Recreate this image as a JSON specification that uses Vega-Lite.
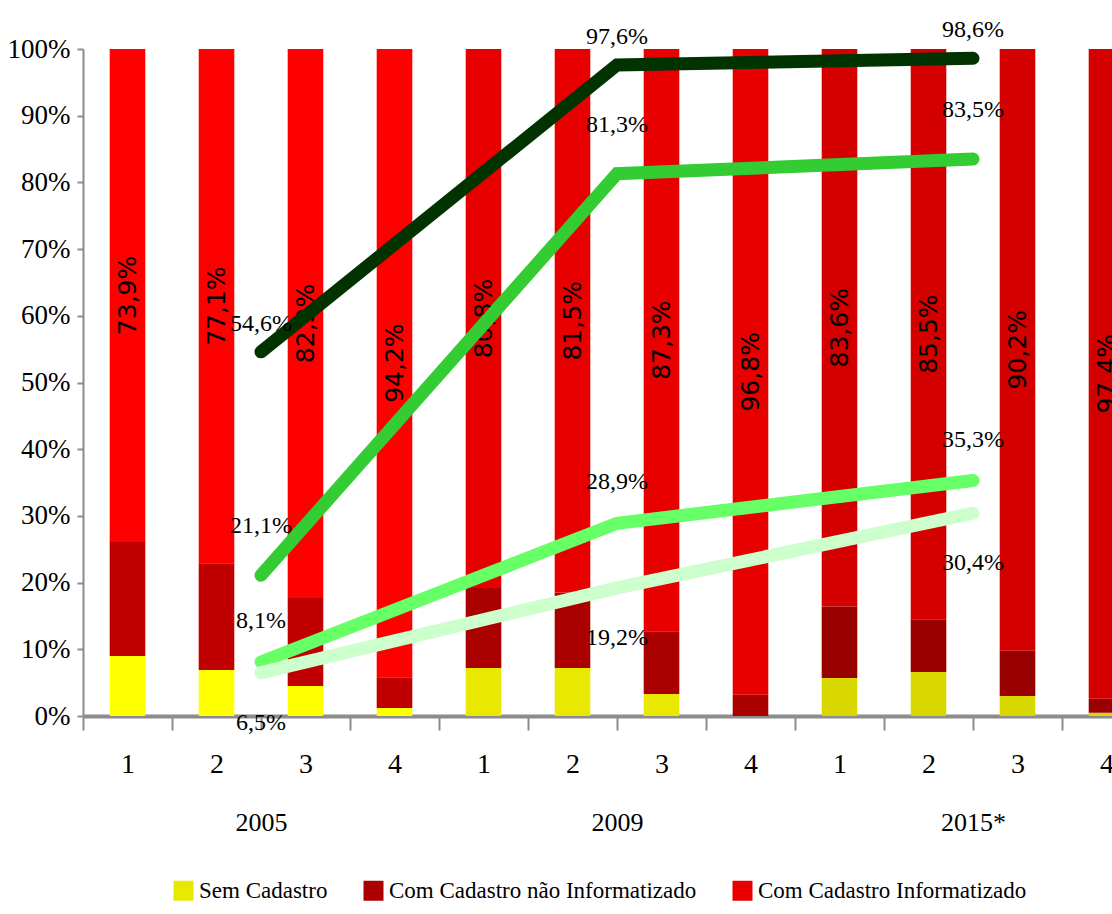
{
  "$schema": "https://vega.github.io/schema/vega-lite/v6.json",
  "width": 1029,
  "height": 667,
  "autosize": {"type": "none"},
  "padding": {"left": 83, "top": 49, "right": 0, "bottom": 198},
  "config": {
    "view": {"stroke": null},
    "font": "Liberation Serif",
    "axis": {"labelFont": "Liberation Serif", "titleFont": "Liberation Serif"},
    "legend": {"labelFont": "Liberation Serif", "titleFont": "Liberation Serif"},
    "text": {"font": "Liberation Serif"},
    "locale": {"number": {"decimal": ",", "thousands": ".", "grouping": [3], "currency": ["R$", ""]}}
  },
  "datasets": {
    "barras": [
      {"ano": "2005", "periodo": "2005-1", "categoria": "Sem Cadastro", "valor": 0.090},
      {"ano": "2005", "periodo": "2005-1", "categoria": "Com Cadastro não Informatizado", "valor": 0.171},
      {"ano": "2005", "periodo": "2005-1", "categoria": "Com Cadastro Informatizado", "valor": 0.739},
      {"ano": "2005", "periodo": "2005-2", "categoria": "Sem Cadastro", "valor": 0.069},
      {"ano": "2005", "periodo": "2005-2", "categoria": "Com Cadastro não Informatizado", "valor": 0.160},
      {"ano": "2005", "periodo": "2005-2", "categoria": "Com Cadastro Informatizado", "valor": 0.771},
      {"ano": "2005", "periodo": "2005-3", "categoria": "Sem Cadastro", "valor": 0.045},
      {"ano": "2005", "periodo": "2005-3", "categoria": "Com Cadastro não Informatizado", "valor": 0.132},
      {"ano": "2005", "periodo": "2005-3", "categoria": "Com Cadastro Informatizado", "valor": 0.823},
      {"ano": "2005", "periodo": "2005-4", "categoria": "Sem Cadastro", "valor": 0.012},
      {"ano": "2005", "periodo": "2005-4", "categoria": "Com Cadastro não Informatizado", "valor": 0.046},
      {"ano": "2005", "periodo": "2005-4", "categoria": "Com Cadastro Informatizado", "valor": 0.942},
      {"ano": "2009", "periodo": "2009-1", "categoria": "Sem Cadastro", "valor": 0.072},
      {"ano": "2009", "periodo": "2009-1", "categoria": "Com Cadastro não Informatizado", "valor": 0.120},
      {"ano": "2009", "periodo": "2009-1", "categoria": "Com Cadastro Informatizado", "valor": 0.808},
      {"ano": "2009", "periodo": "2009-2", "categoria": "Sem Cadastro", "valor": 0.072},
      {"ano": "2009", "periodo": "2009-2", "categoria": "Com Cadastro não Informatizado", "valor": 0.113},
      {"ano": "2009", "periodo": "2009-2", "categoria": "Com Cadastro Informatizado", "valor": 0.815},
      {"ano": "2009", "periodo": "2009-3", "categoria": "Sem Cadastro", "valor": 0.033},
      {"ano": "2009", "periodo": "2009-3", "categoria": "Com Cadastro não Informatizado", "valor": 0.094},
      {"ano": "2009", "periodo": "2009-3", "categoria": "Com Cadastro Informatizado", "valor": 0.873},
      {"ano": "2009", "periodo": "2009-4", "categoria": "Sem Cadastro", "valor": 0.000},
      {"ano": "2009", "periodo": "2009-4", "categoria": "Com Cadastro não Informatizado", "valor": 0.032},
      {"ano": "2009", "periodo": "2009-4", "categoria": "Com Cadastro Informatizado", "valor": 0.968},
      {"ano": "2015*", "periodo": "2015*-1", "categoria": "Sem Cadastro", "valor": 0.057},
      {"ano": "2015*", "periodo": "2015*-1", "categoria": "Com Cadastro não Informatizado", "valor": 0.107},
      {"ano": "2015*", "periodo": "2015*-1", "categoria": "Com Cadastro Informatizado", "valor": 0.836},
      {"ano": "2015*", "periodo": "2015*-2", "categoria": "Sem Cadastro", "valor": 0.066},
      {"ano": "2015*", "periodo": "2015*-2", "categoria": "Com Cadastro não Informatizado", "valor": 0.079},
      {"ano": "2015*", "periodo": "2015*-2", "categoria": "Com Cadastro Informatizado", "valor": 0.855},
      {"ano": "2015*", "periodo": "2015*-3", "categoria": "Sem Cadastro", "valor": 0.030},
      {"ano": "2015*", "periodo": "2015*-3", "categoria": "Com Cadastro não Informatizado", "valor": 0.068},
      {"ano": "2015*", "periodo": "2015*-3", "categoria": "Com Cadastro Informatizado", "valor": 0.902},
      {"ano": "2015*", "periodo": "2015*-4", "categoria": "Sem Cadastro", "valor": 0.005},
      {"ano": "2015*", "periodo": "2015*-4", "categoria": "Com Cadastro não Informatizado", "valor": 0.021},
      {"ano": "2015*", "periodo": "2015*-4", "categoria": "Com Cadastro Informatizado", "valor": 0.974}
    ],
    "linhas": [
      {"ano": "2005", "serie": "Série 1", "valor": 0.546},
      {"ano": "2009", "serie": "Série 1", "valor": 0.976},
      {"ano": "2015*", "serie": "Série 1", "valor": 0.986},
      {"ano": "2005", "serie": "Série 2", "valor": 0.211},
      {"ano": "2009", "serie": "Série 2", "valor": 0.813},
      {"ano": "2015*", "serie": "Série 2", "valor": 0.835},
      {"ano": "2005", "serie": "Série 3", "valor": 0.081},
      {"ano": "2009", "serie": "Série 3", "valor": 0.289},
      {"ano": "2015*", "serie": "Série 3", "valor": 0.353},
      {"ano": "2005", "serie": "Série 4", "valor": 0.065},
      {"ano": "2009", "serie": "Série 4", "valor": 0.192},
      {"ano": "2015*", "serie": "Série 4", "valor": 0.304}
    ]
  },
  "layer": [
    {
      "data": {"name": "barras"},
      "transform": [{"calculate": "datum.categoria + ' | ' + datum.ano", "as": "tom"}],
      "mark": {"type": "bar", "width": {"band": 0.4}},
      "encoding": {
        "x": {
          "field": "periodo", "type": "nominal", "sort": null,
          "scale": {"range": [0, 1068], "paddingInner": 0, "paddingOuter": 0},
          "axis": {
            "orient": "bottom", "title": null, "labelAngle": 0,
            "labelExpr": "split(datum.value, '-')[1]",
            "labelFont": "Liberation Serif",
            "labelFontSize": 28, "labelColor": "#000000", "labelPadding": 20,
            "tickBand": "extent", "tickSize": 14, "tickWidth": 2, "tickColor": "#8c8c8c",
            "domainColor": "#8c8c8c", "domainWidth": 4, "grid": false
          }
        },
        "y": {
          "field": "valor", "type": "quantitative", "stack": "zero",
          "scale": {"domain": [0, 1], "nice": false},
          "axis": {
            "title": null, "format": ".0%",
            "values": [0, 0.1, 0.2, 0.3, 0.4, 0.5, 0.6, 0.7, 0.8, 0.9, 1],
            "labelFont": "Liberation Serif",
            "labelFontSize": 27, "labelColor": "#000000", "labelPadding": 7,
            "tickSize": 6, "tickWidth": 2, "tickColor": "#8c8c8c",
            "domainColor": "#8c8c8c", "domainWidth": 2, "grid": false
          }
        },
        "order": {"field": "categoria", "sort": "descending"},
        "color": {
          "field": "tom", "type": "nominal",
          "scale": {
            "domain": [
              "Sem Cadastro | 2005", "Com Cadastro não Informatizado | 2005", "Com Cadastro Informatizado | 2005",
              "Sem Cadastro | 2009", "Com Cadastro não Informatizado | 2009", "Com Cadastro Informatizado | 2009",
              "Sem Cadastro | 2015*", "Com Cadastro não Informatizado | 2015*", "Com Cadastro Informatizado | 2015*"
            ],
            "range": [
              "#ffff00", "#c00000", "#ff0000",
              "#e8e800", "#aa0000", "#e80000",
              "#d8d800", "#990000", "#d40000"
            ]
          },
          "legend": {
            "title": null, "orient": "none", "direction": "horizontal",
            "legendX": 89, "legendY": 830,
            "values": ["Sem Cadastro | 2009", "Com Cadastro não Informatizado | 2009", "Com Cadastro Informatizado | 2009"],
            "labelExpr": "split(datum.label, ' | ')[0]",
            "labelFont": "Liberation Serif",
            "symbolType": "square", "symbolSize": 400, "symbolStrokeWidth": 0,
            "labelFontSize": 23, "labelColor": "#000000", "labelOffset": 4,
            "columnPadding": 34, "labelLimit": 400
          }
        }
      }
    },
    {
      "data": {"name": "barras"},
      "transform": [{"filter": "datum.categoria === 'Com Cadastro Informatizado'"}],
      "mark": {"type": "text", "font": "DejaVu Sans", "fontSize": 25, "angle": 270, "align": "center", "baseline": "middle", "color": "#000000"},
      "encoding": {
        "x": {
          "field": "periodo", "type": "nominal", "sort": null,
          "scale": {"range": [0, 1068], "paddingInner": 0, "paddingOuter": 0},
          "axis": null
        },
        "y": {
          "field": "valor", "type": "quantitative",
          "scale": {"domain": [0, 2], "reverse": true, "nice": false},
          "axis": null
        },
        "text": {"field": "valor", "type": "quantitative", "format": ".1%"}
      }
    },
    {
      "data": {"name": "linhas"},
      "encoding": {
        "x": {
          "field": "ano", "type": "nominal", "sort": null,
          "scale": {"range": [0, 1068], "paddingInner": 0, "paddingOuter": 0},
          "axis": {
            "orient": "bottom", "title": null, "labelAngle": 0,
            "ticks": false, "domain": false, "grid": false,
            "labelFont": "Liberation Serif",
            "labelFontSize": 26, "labelColor": "#000000", "labelPadding": 93
          }
        },
        "y": {
          "field": "valor", "type": "quantitative",
          "scale": {"domain": [0, 1], "nice": false},
          "axis": null
        }
      },
      "layer": [
        {
          "mark": {"type": "line", "strokeWidth": 13, "strokeCap": "round"},
          "encoding": {
            "color": {
              "field": "serie", "type": "nominal",
              "scale": {"domain": ["Série 1", "Série 2", "Série 3", "Série 4"], "range": ["#003300", "#33cc33", "#66ff66", "#ccffcc"]},
              "legend": null
            }
          }
        },
        {
          "transform": [{"filter": "datum.serie === 'Série 1'"}],
          "mark": {"type": "text", "font": "Liberation Serif", "fontSize": 24, "dy": -28, "color": "#000000"},
          "encoding": {"text": {"field": "valor", "type": "quantitative", "format": ".1%"}}
        },
        {
          "transform": [{"filter": "datum.serie === 'Série 2'"}],
          "mark": {"type": "text", "font": "Liberation Serif", "fontSize": 24, "dy": -49, "color": "#000000"},
          "encoding": {"text": {"field": "valor", "type": "quantitative", "format": ".1%"}}
        },
        {
          "transform": [{"filter": "datum.serie === 'Série 3'"}],
          "mark": {"type": "text", "font": "Liberation Serif", "fontSize": 24, "dy": -41, "color": "#000000"},
          "encoding": {"text": {"field": "valor", "type": "quantitative", "format": ".1%"}}
        },
        {
          "transform": [{"filter": "datum.serie === 'Série 4'"}],
          "mark": {"type": "text", "font": "Liberation Serif", "fontSize": 24, "dy": 50, "color": "#000000"},
          "encoding": {"text": {"field": "valor", "type": "quantitative", "format": ".1%"}}
        }
      ]
    }
  ],
  "resolve": {"scale": {"x": "independent", "y": "independent", "color": "independent"}}
}
